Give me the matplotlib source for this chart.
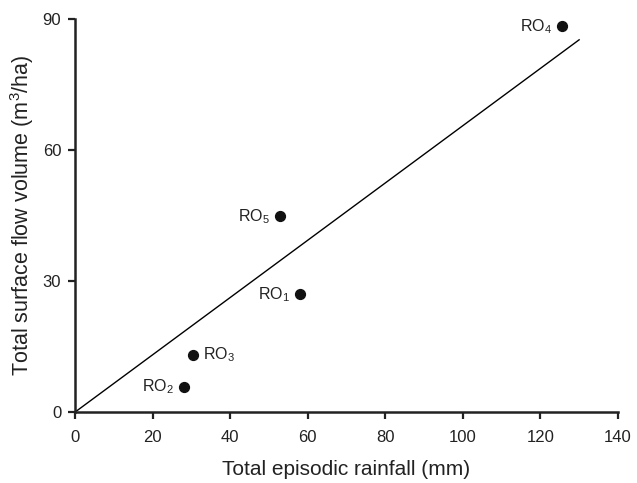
import matplotlib
matplotlib.use("Agg")
import matplotlib.pyplot as plt

plt.rcParams['font.family'] = ['Liberation Sans', 'DejaVu Sans']
plt.rcParams['mathtext.fontset'] = 'custom'
plt.rcParams['mathtext.rm'] = 'Liberation Sans'
plt.rcParams['mathtext.it'] = 'Liberation Sans'
plt.rcParams['mathtext.default'] = 'regular'

labels = ["RO$_1$", "RO$_2$", "RO$_3$", "RO$_4$", "RO$_5$"]
rainfall = [58.0, 28.0, 30.5, 125.5, 52.8]
flow = [26.9, 5.8, 13.1, 88.3, 44.8]
label_side = ["left", "left", "right", "left", "left"]
fit_x = [0, 130]
fit_y = [0, 85.2]

fig = plt.figure(figsize=(6.37, 4.83), dpi=100)
ax = fig.add_axes([0.118, 0.147, 0.852, 0.814])

ax.plot(fit_x, fit_y, color='black', lw=1.0)
ax.scatter(rainfall, flow, s=50, color='#111111', zorder=3)
for x, y, t, side in zip(rainfall, flow, labels, label_side):
    if side == "left":
        ax.annotate(t, (x, y), xytext=(-7, 0), textcoords='offset points',
                    ha='right', va='center', fontsize=11.5, color='#222222')
    else:
        ax.annotate(t, (x, y), xytext=(7, 0), textcoords='offset points',
                    ha='left', va='center', fontsize=11.5, color='#222222')

ax.set_xlim(0, 140)
ax.set_ylim(0, 90)
ax.set_xticks([0, 20, 40, 60, 80, 100, 120, 140])
ax.set_yticks([0, 30, 60, 90])
for s in ['top', 'right']:
    ax.spines[s].set_visible(False)
for s in ['left', 'bottom']:
    ax.spines[s].set_linewidth(1.8)
    ax.spines[s].set_color('#222222')
ax.tick_params(direction='out', length=5, width=1.6, labelsize=12, colors='#222222')
ax.tick_params(axis='x', pad=8)
ax.tick_params(axis='y', pad=5)
ax.set_xlabel("Total episodic rainfall (mm)", fontsize=15, color='#222222', labelpad=11)
ax.set_ylabel("Total surface flow volume (m$^3$/ha)", fontsize=15.5, color='#222222', labelpad=5)

fig.savefig("out.png", dpi=100)
